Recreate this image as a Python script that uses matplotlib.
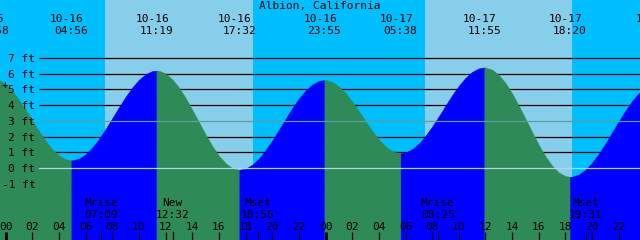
import matplotlib
matplotlib.use("Agg")
import matplotlib.pyplot as plt
from matplotlib.transforms import IdentityTransform, blended_transform_factory

# ---------------- data ----------------
title = "Albion, California"

# tide extremes (date label, time label, height ft, day offset from 10-16)
tide_dates = ["10-15", "10-16", "10-16", "10-16", "10-16", "10-17", "10-17", "10-17", "10-18"]
tide_times = ["22:58", "04:56", "11:19", "17:32", "23:55", "05:38", "11:55", "18:20", "00:53"]
tide_days = [-1, 0, 0, 0, 0, 1, 1, 1, 2]
tide_heights = [5.7, 0.5, 6.2, -0.1, 5.6, 0.95, 6.4, -0.55, 5.4]

# half-hourly tide heights (ft), hours from 10-16 00:00 (-1.0 ... 48.0)
hours = [k / 2 for k in range(-2, 97)]
heights = [5.70, 5.60, 5.33, 4.90, 4.35, 3.71, 3.04, 2.36, 1.74, 1.21,
           0.81, 0.57, 0.50, 0.61, 0.88, 1.31, 1.85, 2.49, 3.18, 3.87,
           4.54, 5.13, 5.62, 5.97, 6.17, 6.19, 6.02, 5.65, 5.13, 4.47,
           3.72, 2.93, 2.15, 1.42, 0.80, 0.32, 0.01, -0.10, -0.02, 0.22,
           0.61, 1.14, 1.76, 2.44, 3.13, 3.81, 4.43, 4.93, 5.31, 5.54,
           5.60, 5.48, 5.20, 4.78, 4.24, 3.63, 2.99, 2.37, 1.83, 1.39,
           1.09, 0.96, 1.00, 1.21, 1.56, 2.06, 2.65, 3.30, 3.98, 4.64,
           5.24, 5.74, 6.12, 6.34, 6.39, 6.26, 5.92, 5.41, 4.75, 3.97,
           3.14, 2.30, 1.48, 0.76, 0.16, -0.27, -0.50, -0.54, -0.40, -0.09,
           0.35, 0.92, 1.57, 2.28, 2.98, 3.66, 4.27, 4.77, 5.14]

# sun (daylight periods)
sunrise_times = ["07:27", "07:28"]
sunset_times = ["18:33", "18:30"]
sun_days = [0, 1]

# moon events
moon_labels = ["Mrise", "New", "Mset", "Mrise", "Mset"]
moon_times = ["07:09", "12:32", "18:56", "08:25", "19:31"]
moon_days = [0, 0, 0, 1, 1]

depth_levels = [7, 6, 5, 4, 3, 2, 1, 0, -1]
hour_labels = ["00", "02", "04", "06", "08", "10", "12", "14", "16", "18", "20", "22"]

# ---------------- layout / style ----------------
W, H = 640, 240
PX_PER_HR = 13.33
X0 = 5.6            # pixel of 10-16 00:00
ZERO_Y = 168.2      # pixel row of 0 ft (from top)
PX_PER_FT = 15.75

NIGHT = "#00bfff"
DAY = "#87ceeb"
FLOOD = "#0000ff"
EBB = "#2e8b57"
FONT = dict(family="DejaVu Sans Mono", size=8, color="black")


def to_hr(t, day):
    h, m = t.split(":")
    return day * 24 + int(h) + int(m) / 60.0


xmin = -X0 / PX_PER_HR
xmax = (W - X0) / PX_PER_HR
ymin = (ZERO_Y - H) / PX_PER_FT
ymax = ZERO_Y / PX_PER_FT

fig = plt.figure(figsize=(W / 100, H / 100), dpi=100)
ax = fig.add_axes([0, 0, 1, 1])
ax.set_xlim(xmin, xmax)
ax.set_ylim(ymin, ymax)
ax.axis("off")

pix = IdentityTransform()
xdata_ypix = blended_transform_factory(ax.transData, pix)
xpix_ydata = blended_transform_factory(pix, ax.transData)


def ypx(y_from_top):
    return H - y_from_top


# background night / day
ax.axvspan(xmin - 1, xmax + 1, color=NIGHT, zorder=0, lw=0)
for sr, ss, d in zip(sunrise_times, sunset_times, sun_days):
    ax.axvspan(to_hr(sr, d), to_hr(ss, d), color=DAY, zorder=0.5, lw=0)

# depth lines (behind water)
for lv in depth_levels:
    if lv in (0, 3):
        continue
    ax.plot([39, W], [lv, lv], transform=xpix_ydata, color="black", lw=0.9,
            zorder=1, solid_capstyle="butt")

# water fill
ev_t = [to_hr(t, d) for t, d in zip(tide_times, tide_days)]
for i in range(len(ev_t) - 1):
    t0, t1 = ev_t[i], ev_t[i + 1]
    xs = [t0] + [h for h in hours if t0 < h < t1] + [t1]
    ys = [tide_heights[i]] + [v for h, v in zip(hours, heights) if t0 < h < t1] + [tide_heights[i + 1]]
    col = FLOOD if tide_heights[i + 1] > tide_heights[i] else EBB
    ax.fill_between(xs, ys, ymin - 1, color=col, lw=0.3, ec=col, zorder=2)

# mean & datum lines over water
ax.plot([39, W], [3, 3], transform=xpix_ydata, color="#5f9ea0", lw=0.9, zorder=3)
ax.plot([39, W], [0, 0], transform=xpix_ydata, color="#add8e6", lw=0.9, zorder=3)

# depth labels
for lv in depth_levels:
    yl = ZERO_Y - lv * PX_PER_FT
    ax.text(35.5, ypx(yl + 4), f"{lv} ft", transform=pix, ha="right", va="baseline", zorder=4, **FONT)

ax.text(4.5, ypx(88.5), "+", transform=pix, ha="center", va="baseline", zorder=4, **FONT)

# title
ax.text(W / 2, ypx(9.5), title, transform=pix, ha="center", va="baseline", zorder=4, **FONT)

# tide event labels
off_date = 4.3 / PX_PER_HR
for t, d, dl in zip(tide_times, tide_days, tide_dates):
    x = to_hr(t, d)
    ax.text(x - off_date, ypx(22), dl, transform=xdata_ypix, ha="center", va="baseline", zorder=4, clip_on=True, **FONT)
    ax.text(x, ypx(34), t, transform=xdata_ypix, ha="center", va="baseline", zorder=4, clip_on=True, **FONT)

# moon labels + ticks
for lab, t, d in zip(moon_labels, moon_times, moon_days):
    x = to_hr(t, d)
    ax.text(x, ypx(206.5), lab, transform=xdata_ypix, ha="center", va="baseline", zorder=4, **FONT)
    ax.text(x, ypx(218.5), t, transform=xdata_ypix, ha="center", va="baseline", zorder=4, **FONT)
    ax.plot([x, x], [ypx(232), ypx(241)], transform=xdata_ypix, color="black", lw=0.9, zorder=4)

# hour ticks + labels
for day in range(0, 3):
    for i, hl in enumerate(hour_labels):
        x = day * 24 + int(hl)
        if x > xmax + 1:
            continue
        lw = 2.0 if hl == "00" else 0.9
        ax.plot([x, x], [ypx(232), ypx(241)], transform=xdata_ypix, color="black", lw=lw,
                zorder=4, solid_capstyle="butt")
        ax.text(x, ypx(229.5), hl, transform=xdata_ypix, ha="center", va="baseline", zorder=4, **FONT)

fig.savefig("out.png", dpi=100)
